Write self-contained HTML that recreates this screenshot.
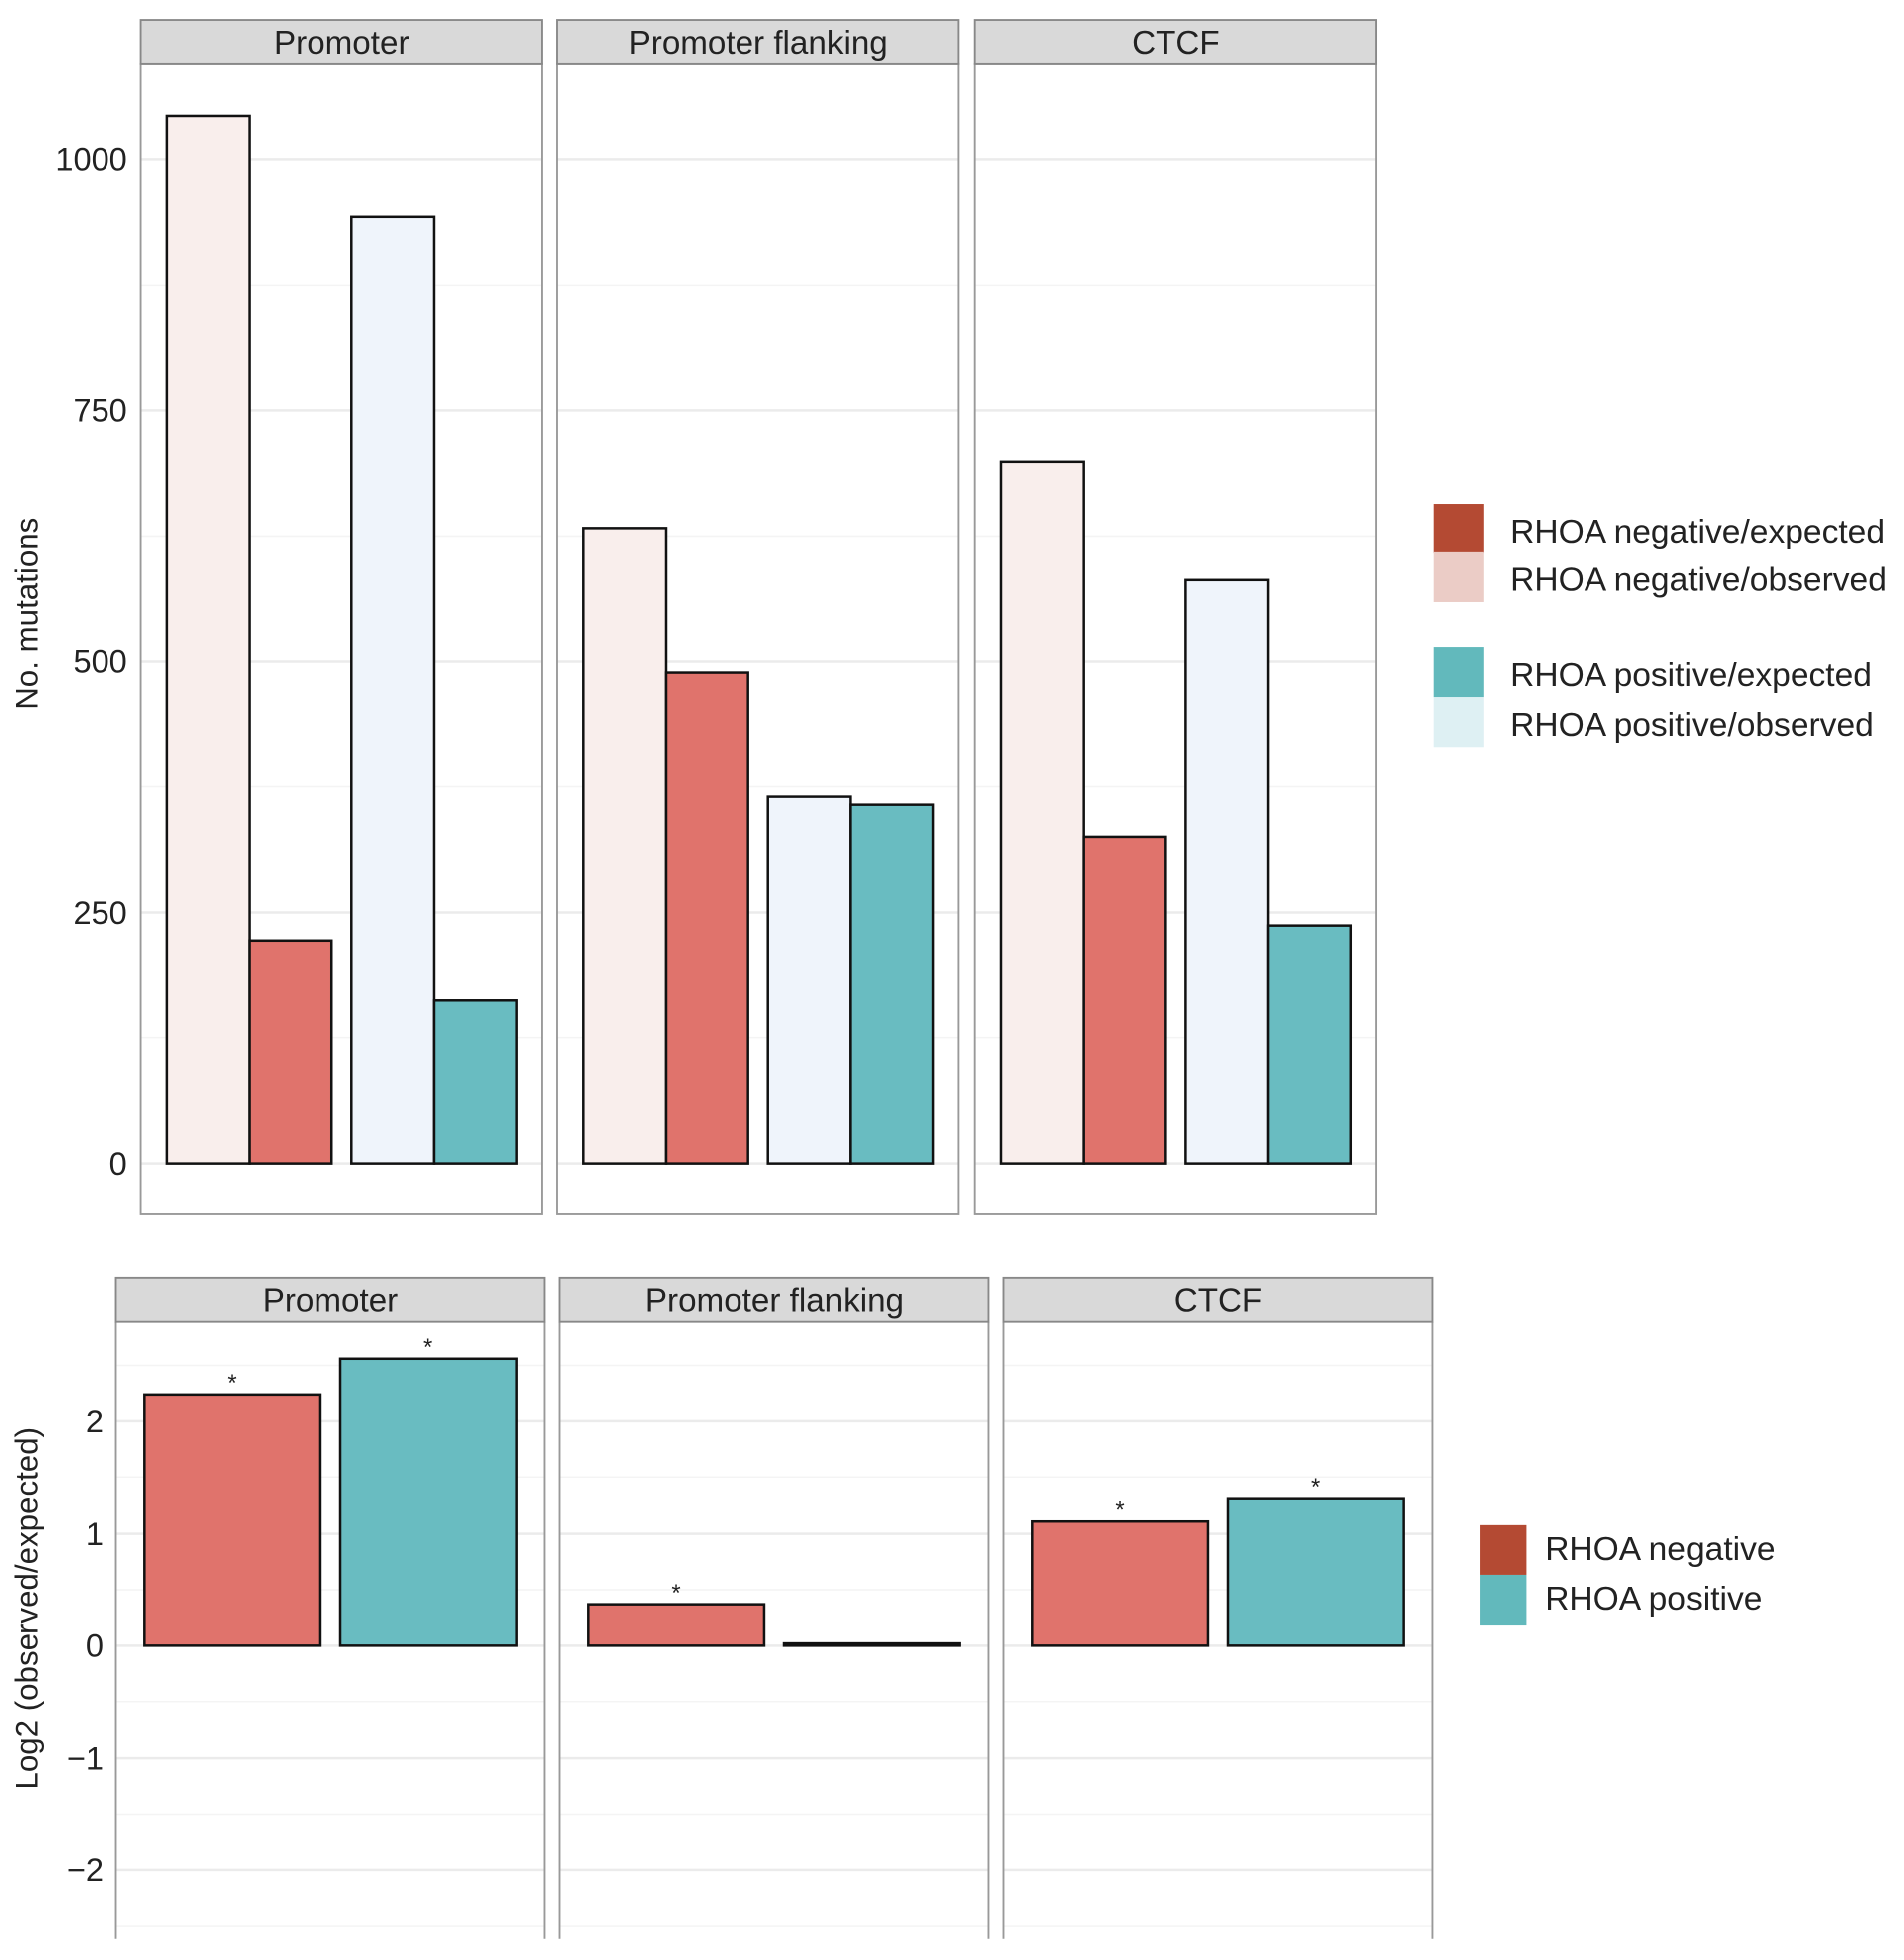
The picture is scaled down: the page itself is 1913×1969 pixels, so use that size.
<!DOCTYPE html>
<html><head><meta charset="utf-8"><style>
html,body{margin:0;padding:0;background:#fff;}
svg{display:block;font-family:"Liberation Sans",Arial,sans-serif;}
</style></head><body>
<svg id="chart" width="1913" height="1969" viewBox="0 0 1527 1572" preserveAspectRatio="none" xmlns="http://www.w3.org/2000/svg"></svg>
<script>
const facets = ["Promoter", "Promoter flanking", "CTCF"];
const negObserved = [1043, 633, 699];
const negExpected = [222, 489, 325];
const posObserved = [943, 365, 581];
const posExpected = [162, 357, 237];
const topTicks = [0, 250, 500, 750, 1000];
const log2Neg = [2.24, 0.37, 1.11];
const log2Pos = [2.56, 0.02, 1.31];
const log2Sig = [[true, true], [true, false], [true, true]];
const bottomTicks = [-2, -1, 0, 1, 2];

const svg = document.getElementById('chart');
const NS = 'http://www.w3.org/2000/svg';
function mk(tag, attrs, parent) {
  const e = document.createElementNS(NS, tag);
  for (const k in attrs) e.setAttribute(k, attrs[k]);
  (parent || svg).appendChild(e);
  return e;
}
function txt(x, y, s, size, anchor, parent) {
  const t = mk('text', {x: x, y: y, 'font-size': size, 'text-anchor': anchor || 'middle', fill: '#222'}, parent);
  t.textContent = s;
  return t;
}

// ---- top chart ----
const yTop = v => 933 - v * 0.805;
const topPanels = [113, 447, 782];
const topW = 322;
for (let i = 0; i < 3; i++) {
  const px = topPanels[i];
  const g = mk('g', {});
  
  
  for (let v = -125; v <= 1125; v += 125) {
    const y = yTop(v);
    if (y < 52 || y > 973) continue;
    mk('line', {x1: px, x2: px + topW, y1: y, y2: y, stroke: v % 250 === 0 ? '#ebebeb' : '#f4f4f4', 'stroke-width': v % 250 === 0 ? 2 : 1.2}, g);
  }
  const bars = [[negObserved[i], '#f9eeec', 21], [negExpected[i], '#e0736c', 87], [posObserved[i], '#eff4fb', 169], [posExpected[i], '#69bcc1', 235]];
  bars.forEach((b, j) => {
    const r = mk('rect', {x: px + b[2], y: yTop(b[0]), width: 66, height: yTop(0) - yTop(b[0]), fill: b[1], stroke: '#111', 'stroke-width': 2}, g);
    
    
  });
  mk('rect', {x: px, y: 51, width: topW, height: 923, fill: 'none', stroke: '#999', 'stroke-width': 1.5}, g);
  const s = mk('rect', {x: px, y: 16, width: topW, height: 35, fill: '#d9d9d9', stroke: '#888', 'stroke-width': 1.5}, g);
  
  
  txt(px + topW / 2, 43, facets[i], 26.5, 'middle', g);
}
topTicks.forEach(v => {
  const t = txt(102, yTop(v) + 9, String(v), 26, 'end');
  
  
});
const yt1 = txt(0, 0, 'No. mutations', 25, 'middle');
yt1.setAttribute('transform', 'translate(30,492) rotate(-90)');



const leg1 = [['#b44a33', 'RHOA negative/expected', 404], ['#ebccc6', 'RHOA negative/observed', 443], ['#62b9bc', 'RHOA positive/expected', 519], ['#def0f3', 'RHOA positive/observed', 559]];
leg1.forEach(l => {
  const r = mk('rect', {x: 1150, y: l[2], width: 40, height: 40, fill: l[0]});
  
  
  const t = txt(1211, l[2] + 31, l[1], 26.8, 'start');
  
  
});

// ---- bottom chart ----
const yBot = v => 1320 - v * 90;
const botPanels = [93, 449, 805];
const botW = 344;
for (let i = 0; i < 3; i++) {
  const px = botPanels[i];
  const g = mk('g', {});
  
  
  for (let v = -2.5; v <= 2.5; v += 0.5) {
    const y = yBot(v);
    if (y < 1061 || y > 1554) continue;
    mk('line', {x1: px, x2: px + botW, y1: y, y2: y, stroke: Number.isInteger(v) ? '#ebebeb' : '#f4f4f4', 'stroke-width': Number.isInteger(v) ? 2 : 1.2}, g);
  }
  const bars = [[log2Neg[i], '#e0736c', 23], [log2Pos[i], '#69bcc1', 180]];
  bars.forEach((b, j) => {
    const top = Math.min(yBot(b[0]), yBot(0));
    const h = Math.abs(yBot(b[0]) - yBot(0));
    const r = mk('rect', {x: px + b[2], y: top, width: 141, height: Math.max(h, 1), fill: b[1], stroke: '#111', 'stroke-width': 2}, g);
    
    
    if (log2Sig[i][j]) {
      const a = txt(px + b[2] + 70, top - 3, '*', 19, 'middle', g);
      
      
    }
  });
  mk('line', {x1: px, x2: px, y1: 1060, y2: 1555, stroke: '#999', 'stroke-width': 1.5}, g);
  mk('line', {x1: px + botW, x2: px + botW, y1: 1060, y2: 1555, stroke: '#999', 'stroke-width': 1.5}, g);
  const s = mk('rect', {x: px, y: 1025, width: botW, height: 35, fill: '#d9d9d9', stroke: '#888', 'stroke-width': 1.5}, g);
  
  
  txt(px + botW / 2, 1052, facets[i], 26.5, 'middle', g);
}
bottomTicks.forEach(v => {
  const t = txt(83, yBot(v) + 9, v < 0 ? '\u2212' + Math.abs(v) : String(v), 26, 'end');
  
  
});
const yt2 = txt(0, 0, 'Log2 (observed/expected)', 25, 'middle');
yt2.setAttribute('transform', 'translate(30,1290) rotate(-90)');



const leg2 = [['#b44a33', 'RHOA negative', 1223], ['#62b9bc', 'RHOA positive', 1263]];
leg2.forEach(l => {
  const r = mk('rect', {x: 1187, y: l[2], width: 37, height: 40, fill: l[0]});
  
  
  const t = txt(1239, l[2] + 28, l[1], 26.8, 'start');
  
  
});
</script>
</body></html>
